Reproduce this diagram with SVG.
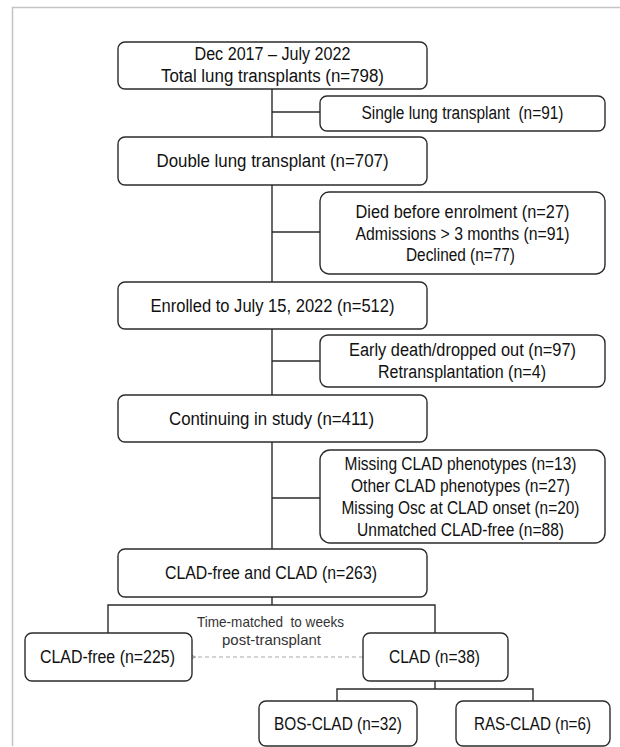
<svg xmlns="http://www.w3.org/2000/svg" width="620" height="747" viewBox="0 0 620 747">
<style>
.box{fill:#fff;stroke:#2b2b2b;stroke-width:1.4}
.ln{fill:none;stroke:#2b2b2b;stroke-width:1.4}
.t{font-family:"Liberation Sans",Arial,sans-serif;font-size:18px;fill:#111;text-anchor:middle}
.c{font-family:"Liberation Sans",Arial,sans-serif;font-size:14.5px;fill:#333;text-anchor:middle}
.frame{fill:none;stroke:#c4c4c4;stroke-width:1.5}
</style>
<defs>
<marker id="ah" markerWidth="8" markerHeight="8" refX="1" refY="4" orient="auto" markerUnits="userSpaceOnUse">
<path d="M6,1.5 L1,4 L6,6.5" fill="none" stroke="#999" stroke-width="1.2"/>
</marker>
</defs>
<rect width="620" height="747" fill="#fff"/>
<path class="frame" d="M12.5,746 V7.5 H620"/>
<g id="connectors">
<path class="ln" d="M272,89 V137 M272,185 V282 M272,329 V395 M272,442 V549 M272,597 V605"/>
<path class="ln" d="M272,112 H320 M272,232 H320 M272,361 H320 M272,498 H320"/>
<path class="ln" d="M108,633 V605 H435 V633"/>
<path class="ln" d="M435,681 V689 M337,701 V689 H533 V701"/>
<line x1="363" y1="657" x2="195" y2="657" stroke="#aaa" stroke-width="1.2" stroke-dasharray="4 3" marker-end="url(#ah)"/>
</g>
<g id="n1"><rect class="box" x="118" y="42" width="309" height="47" rx="7"/>
<text class="t" x="272.5" y="59.5" textLength="156" lengthAdjust="spacingAndGlyphs">Dec 2017 – July 2022</text>
<text class="t" x="272.5" y="82" textLength="223" lengthAdjust="spacingAndGlyphs">Total lung transplants (n=798)</text></g>
<g id="n2"><rect class="box" x="320" y="96" width="285" height="35" rx="7"/>
<text class="t" x="462.5" y="119" textLength="202" lengthAdjust="spacingAndGlyphs" xml:space="preserve">Single lung transplant  (n=91)</text></g>
<g id="n3"><rect class="box" x="118" y="137" width="309" height="48" rx="7"/>
<text class="t" x="272.5" y="167" textLength="232" lengthAdjust="spacingAndGlyphs">Double lung transplant (n=707)</text></g>
<g id="n4"><rect class="box" x="320" y="192" width="285" height="82" rx="9"/>
<text class="t" x="462.5" y="218" textLength="214" lengthAdjust="spacingAndGlyphs">Died before enrolment (n=27)</text>
<text class="t" x="462.5" y="239.5" textLength="214" lengthAdjust="spacingAndGlyphs">Admissions &gt; 3 months (n=91)</text>
<text class="t" x="460.5" y="261" textLength="109" lengthAdjust="spacingAndGlyphs">Declined (n=77)</text></g>
<g id="n5"><rect class="box" x="118" y="282" width="309" height="47" rx="7"/>
<text class="t" x="272.5" y="311.5" textLength="244" lengthAdjust="spacingAndGlyphs">Enrolled to July 15, 2022 (n=512)</text></g>
<g id="n6"><rect class="box" x="320" y="335" width="285" height="52" rx="8"/>
<text class="t" x="462.5" y="356" textLength="227" lengthAdjust="spacingAndGlyphs">Early death/dropped out (n=97)</text>
<text class="t" x="462" y="378" textLength="168" lengthAdjust="spacingAndGlyphs">Retransplantation (n=4)</text></g>
<g id="n7"><rect class="box" x="118" y="395" width="309" height="47" rx="7"/>
<text class="t" x="271.5" y="424.5" textLength="205" lengthAdjust="spacingAndGlyphs">Continuing in study (n=411)</text></g>
<g id="n8"><rect class="box" x="320" y="450" width="285" height="93" rx="10"/>
<text class="t" x="460.5" y="469.5" textLength="232" lengthAdjust="spacingAndGlyphs">Missing CLAD phenotypes (n=13)</text>
<text class="t" x="460.5" y="491.5" textLength="219" lengthAdjust="spacingAndGlyphs">Other CLAD phenotypes (n=27)</text>
<text class="t" x="460.5" y="513.5" textLength="238" lengthAdjust="spacingAndGlyphs">Missing Osc at CLAD onset (n=20)</text>
<text class="t" x="460.5" y="535.5" textLength="207" lengthAdjust="spacingAndGlyphs">Unmatched CLAD-free (n=88)</text></g>
<g id="n9"><rect class="box" x="118" y="549" width="309" height="48" rx="7"/>
<text class="t" x="271" y="579" textLength="212" lengthAdjust="spacingAndGlyphs">CLAD-free and CLAD (n=263)</text></g>
<g id="caption">
<text class="c" x="270.5" y="627" textLength="147" lengthAdjust="spacingAndGlyphs" xml:space="preserve">Time-matched  to weeks</text>
<text class="c" x="271.5" y="645" textLength="99" lengthAdjust="spacingAndGlyphs">post-transplant</text></g>
<g id="n10"><rect class="box" x="25" y="633" width="167" height="48" rx="7"/>
<text class="t" x="107.5" y="663" textLength="135" lengthAdjust="spacingAndGlyphs">CLAD-free (n=225)</text></g>
<g id="n11"><rect class="box" x="363" y="633" width="145" height="48" rx="7"/>
<text class="t" x="434.5" y="663" textLength="91" lengthAdjust="spacingAndGlyphs">CLAD (n=38)</text></g>
<g id="n12"><rect class="box" x="259" y="701" width="158" height="45" rx="7"/>
<text class="t" x="338" y="729.5" textLength="128" lengthAdjust="spacingAndGlyphs">BOS-CLAD (n=32)</text></g>
<g id="n13"><rect class="box" x="456" y="701" width="154" height="45" rx="7"/>
<text class="t" x="532.5" y="729.5" textLength="117" lengthAdjust="spacingAndGlyphs">RAS-CLAD (n=6)</text></g>
</svg>
